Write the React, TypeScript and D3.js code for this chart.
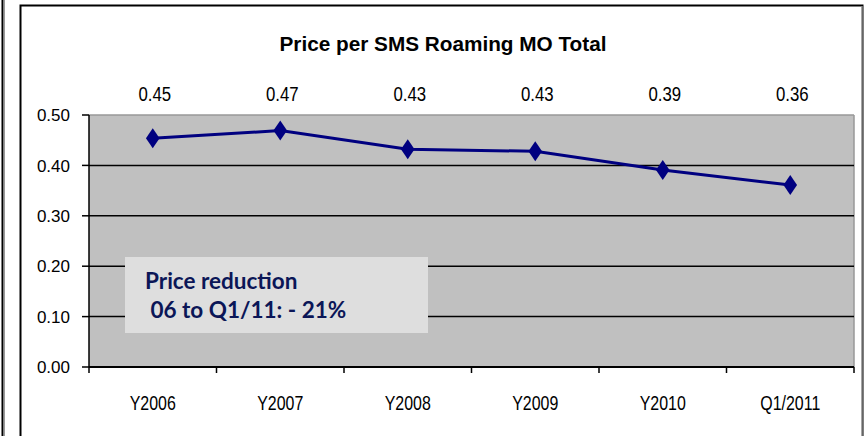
import React from "react";
import * as d3 from "d3";

const categories = ["Y2006", "Y2007", "Y2008", "Y2009", "Y2010", "Q1/2011"];
const values = [0.454, 0.469, 0.432, 0.428, 0.391, 0.361];
const valueLabels = ["0.45", "0.47", "0.43", "0.43", "0.39", "0.36"];
const yTicks = [0, 0.1, 0.2, 0.3, 0.4, 0.5];
const title = "Price per SMS Roaming MO Total";
const noteLines = ["Price reduction", " 06 to Q1/11: - 21%"];

function SText(props: { x: number; y: number; sx: number; size: number; anchor?: string; children: any }) {
  return (
    <text
      transform={`translate(${props.x},${props.y}) scale(${props.sx},1)`}
      textAnchor={props.anchor || "middle"}
      fontSize={props.size}
      fill="#000"
    >
      {props.children}
    </text>
  );
}

export default function App() {
  const W = 865, H = 436;
  const left = 89, right = 854, top = 115, bottom = 367;
  const x = d3.scaleBand<string>().domain(categories).range([left, right]);
  const y = d3.scaleLinear().domain([0, 0.5]).range([bottom, top]);
  const cx = (c: string) => (x(c) as number) + x.bandwidth() / 2;
  const line = d3.line<number>().x((_, i) => cx(categories[i])).y((v) => y(v));
  const dw = 6.8, dh = 10;
  const diamond = `M0,${-dh}L${dw},0L0,${dh}L${-dw},0Z`;
  const font = "'Liberation Sans', Arial, sans-serif";

  return (
    <svg width={W} height={H} style={{ position: "absolute", left: 0, top: 0 }} fontFamily={font}>
      <rect width={W} height={H} fill="white" />
      <line x1={2.5} y1={0} x2={2.5} y2={H} stroke="#000" strokeWidth={2} />
      <line x1={4.5} y1={0} x2={4.5} y2={H} stroke="#999" strokeWidth={1} />
      <rect x={20.5} y={5.5} width={842} height={H} fill="white" stroke="#000" strokeWidth={2} />
      <line x1={862} y1={6} x2={862} y2={H} stroke="#ccc" strokeWidth={1} />
      <text x={443} y={51} textAnchor="middle" fontSize={21} fontWeight="bold" fill="#000" textLength={327} lengthAdjust="spacingAndGlyphs">
        {title}
      </text>
      <rect x={left} y={top} width={right - left} height={bottom - top} fill="#c0c0c0" />
      <line x1={left} y1={top} x2={right} y2={top} stroke="#999" strokeWidth={1.5} />
      <line x1={right} y1={top} x2={right} y2={bottom} stroke="#999" strokeWidth={1.5} />
      {yTicks.filter((t) => t > 0 && t < 0.5).map((t) => (
        <line key={t} x1={left} x2={right} y1={y(t)} y2={y(t)} stroke="#000" strokeWidth={1.5} />
      ))}
      {yTicks.map((t) => (
        <g key={"yt" + t}>
          <line x1={left - 7} x2={left} y1={y(t)} y2={y(t)} stroke="#000" strokeWidth={1.5} />
          <SText x={70} y={y(t) + 6.2} sx={1} size={17} anchor="end">
            {d3.format(".2f")(t)}
          </SText>
        </g>
      ))}
      <line x1={left} x2={left} y1={top} y2={bottom + 6} stroke="#000" strokeWidth={1.5} />
      <line x1={left} x2={right} y1={bottom} y2={bottom} stroke="#000" strokeWidth={2} />
      {categories.map((c) => (
        <line key={"xt" + c} x1={(x(c) as number) + x.bandwidth()} x2={(x(c) as number) + x.bandwidth()} y1={bottom} y2={bottom + 6} stroke="#000" strokeWidth={1.5} />
      ))}
      {categories.map((c) => (
        <SText key={"xl" + c} x={cx(c)} y={409.5} sx={0.76} size={21}>
          {c}
        </SText>
      ))}
      <rect x={125} y={257} width={303} height={76} fill="#dedede" />
      <text x={145} y={289} fontFamily="Lato, 'Open Sans', sans-serif" fontWeight="bold" fontSize={22.5} fill="#0b1657">
        {noteLines[0]}
      </text>
      <text x={145} y={318} fontFamily="Lato, 'Open Sans', sans-serif" fontWeight="bold" fontSize={22.5} fill="#0b1657" style={{ whiteSpace: "pre" }}>
        {noteLines[1]}
      </text>
      <path d={line(values) || ""} fill="none" stroke="#000080" strokeWidth={3} />
      {values.map((v, i) => (
        <path key={"m" + i} d={diamond} transform={`translate(${cx(categories[i])},${y(v)})`} fill="#000080" />
      ))}
      {valueLabels.map((l, i) => (
        <SText key={"vl" + i} x={cx(categories[i]) + 2} y={100.5} sx={0.8} size={21}>
          {l}
        </SText>
      ))}
    </svg>
  );
}
